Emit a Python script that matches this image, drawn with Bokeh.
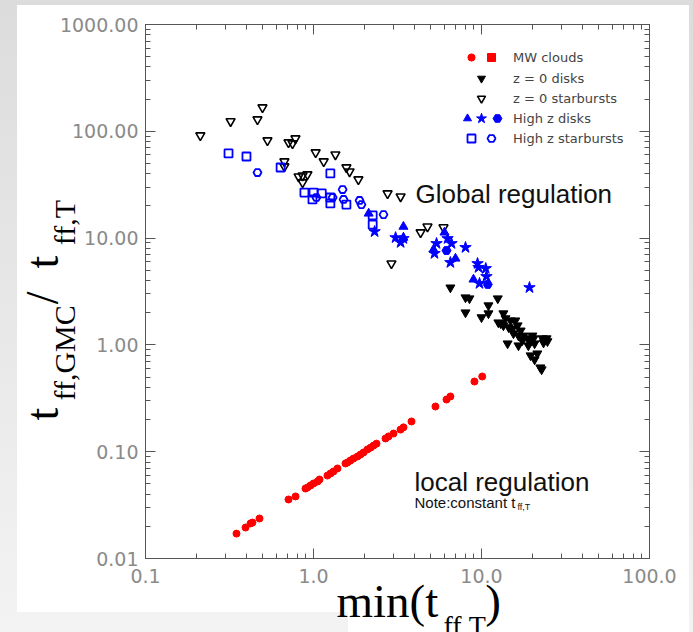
import math
from bokeh.plotting import figure
from bokeh.models import (LogAxis, LogTicker, CustomJSTickFormatter, Label,
                          Legend, LegendItem, Title)
from bokeh.embed import file_html
from bokeh.resources import INLINE

# ---------------- data ----------------
# MW clouds (red circles)
mw_x = [0.348, 0.394, 0.422, 0.433, 0.477, 0.710, 0.782, 0.896, 0.920, 0.959,
        1.00, 1.057, 1.086, 1.211, 1.262, 1.315, 1.389, 1.550, 1.593, 1.660,
        1.730, 1.828, 1.905, 1.985, 2.096, 2.184, 2.276, 2.371, 2.683, 2.796,
        2.994, 3.296, 3.434, 3.831, 5.32, 6.19, 6.53, 9.08, 10.1]
mw_y = [0.0171, 0.0195, 0.0213, 0.0217, 0.0237, 0.0357, 0.0381, 0.0452, 0.0462, 0.0483,
        0.0504, 0.0526, 0.0549, 0.0598, 0.0625, 0.0653, 0.0697, 0.0776, 0.0793, 0.0828,
        0.0863, 0.0902, 0.0942, 0.0984, 0.105, 0.109, 0.114, 0.119, 0.133, 0.139,
        0.148, 0.161, 0.169, 0.192, 0.265, 0.308, 0.329, 0.454, 0.506]

# z = 0 disks (filled black inverted triangles)
dk_x = [6.53, 8.03, 8.48, 11.0, 12.5, 8.03, 11.0, 10.0, 13.5, 13.9,
        13.0, 12.6, 14.9, 15.9, 13.5, 14.5, 15.3, 16.4, 17.1, 15.5,
        16.6, 17.8, 17.5, 18.8, 19.6, 20.4, 20.1, 14.3, 16.6, 19.0,
        20.7, 21.5, 19.6, 20.7, 23.1, 24.4, 23.4, 24.7, 22.4, 22.8]
dk_y = [3.44, 2.78, 2.72, 2.34, 2.72, 2.01, 1.97, 1.81, 1.97, 1.77,
        1.59, 1.62, 1.69, 1.69, 1.52, 1.46, 1.42, 1.52, 1.36, 1.28,
        1.22, 1.22, 1.10, 1.15, 1.08, 1.15, 1.22, 1.03, 0.987, 0.987,
        1.03, 0.830, 0.796, 0.730, 1.15, 1.15, 1.05, 1.08, 0.614, 0.589]

# z = 0 starbursts (open black inverted triangles)
sb_x = [0.212, 0.321, 0.464, 0.497, 0.532, 0.710, 0.750, 0.781, 0.671, 0.671,
        0.815, 0.861, 0.920, 0.861, 1.03, 1.15, 1.35, 1.57, 1.64, 1.85,
        2.76, 3.30, 4.34, 4.77, 5.94, 2.91]
sb_y = [91.4, 124, 129, 167, 82.0, 78.6, 76.9, 85.6, 52.2, 46.8,
        37.7, 38.5, 39.4, 33.2, 63.3, 52.2, 60.6, 45.8, 42.0, 35.4,
        26.2, 24.5, 11.3, 12.8, 12.6, 5.78]

# High z disks: triangles, stars, hexagons (blue filled)
tr_x = [2.13, 3.43, 3.43, 6.02, 5.18, 7.00, 8.96]
tr_y = [17.0, 12.8, 10.1, 11.3, 7.82, 6.44, 4.10]
st_x = [2.31, 3.08, 3.30, 3.43, 5.40, 5.25, 6.28, 6.63, 8.03, 6.53,
        9.47, 9.60, 10.6, 10.7, 9.73, 19.3]
st_y = [11.5, 10.1, 9.10, 9.91, 8.90, 7.18, 9.91, 8.90, 8.17, 5.91,
        5.78, 5.31, 5.19, 4.37, 3.76, 3.44]
hx_x = [10.9, 6.19]
hx_y = [3.68, 7.65]

# High z starbursts: open squares, open pentagons (blue)
sq_x = [0.312, 0.399, 0.637, 1.26, 0.883, 1.00, 0.986, 1.12, 1.26, 1.26, 1.57, 2.25, 2.25]
sq_y = [62.0, 58.1, 45.8, 40.3, 26.7, 26.7, 23.0, 26.2, 24.0, 21.1, 20.6, 16.3, 13.4]
pg_x = [0.464, 1.04, 1.30, 1.49, 1.51, 1.88, 1.93, 2.61]
pg_y = [41.1, 24.0, 24.0, 28.5, 23.0, 22.5, 20.6, 16.6]

legend_labels = ["MW clouds", "z = 0 disks", "z = 0 starbursts",
                 "High z disks", "High z starbursts"]

# ---------------- figure ----------------
FL, FR, FT, FB = 145, 649, 24, 558   # frame edges in canvas px
W, H = 693, 632
NB = "\u00a0"

bg_css = ("linear-gradient(#ffffff,#ffffff) 17px 5px / 672px 607px no-repeat, "
          "linear-gradient(#ffffff,#ffffff) 348px 612px / 341px 20px no-repeat, "
          "linear-gradient(to bottom, #dcdcdc, #f3f3f3)")

p = figure(width=W, height=H, x_axis_type="log", y_axis_type="log",
           x_range=(0.1, 100), y_range=(0.01, 1000),
           output_backend="svg", toolbar_location=None,
           min_border_left=FL, min_border_right=W - FR,
           min_border_top=FT, min_border_bottom=H - FB,
           background_fill_color="white", border_fill_color=None,
           styles={"background": bg_css})
p.xgrid.visible = False
p.ygrid.visible = False
p.outline_line_color = "#555555"

AX = "#555555"


def style_axis(ax, labels=True, fmt=None):
    ax.ticker = LogTicker(num_minor_ticks=10)
    ax.axis_line_color = AX
    ax.major_tick_line_color = AX
    ax.minor_tick_line_color = AX
    ax.major_tick_in = 10
    ax.major_tick_out = 0
    ax.minor_tick_in = 5
    ax.minor_tick_out = 0
    if labels:
        ax.major_label_text_font = "DejaVu Sans"
        ax.major_label_text_font_size = "19px"
        ax.major_label_text_color = "#8a8a8a"
        ax.formatter = CustomJSTickFormatter(code=fmt)
    else:
        ax.major_label_text_font_size = "1px"
        ax.major_label_text_color = None
        ax.major_label_standoff = 0


style_axis(p.xaxis[0], True, "return tick.toFixed(1)")
p.xaxis[0].major_label_standoff = 10
style_axis(p.yaxis[0], True, "return tick.toFixed(2)")
p.yaxis[0].major_label_standoff = 7

ax_r = LogAxis()
style_axis(ax_r, False)
p.add_layout(ax_r, "right")
ax_t = LogAxis()
style_axis(ax_t, False)
p.add_layout(ax_t, "above")

# ---------------- data glyphs ----------------
r_mw = p.scatter(mw_x, mw_y, marker="circle", size=7, fill_color="#ff0000", line_color="#ff0000")
r_dk = p.scatter(dk_x, dk_y, marker="inverted_triangle", size=9, fill_color="black", line_color="black")
r_sb = p.scatter(sb_x, sb_y, marker="inverted_triangle", size=9, fill_color=None,
                 line_color="black", line_width=1.6)
r_sq = p.scatter(sq_x, sq_y, marker="square", size=8, fill_color=None, line_color="#0000ff", line_width=1.8)
r_pg = p.scatter(pg_x, pg_y, marker="hex", size=8, fill_color=None, line_color="#0000ff", line_width=1.8)
r_tr = p.scatter(tr_x, tr_y, marker="triangle", size=9, fill_color="#0000ff", line_color="#0000ff")
r_st = p.scatter(st_x, st_y, marker="star", size=12, fill_color="#0000ff", line_color="#0000ff")
r_hx = p.scatter(hx_x, hx_y, marker="hex", size=9, fill_color="#0000ff", line_color="#0000ff")
# key-only red square symbol for MW clouds (zero size in the plot)
r_mwsq = p.scatter(mw_x[:1], mw_y[:1], marker="square", size=0, fill_color="#ff0000",
                   line_color="#ff0000")

# ---------------- legend (one small legend per glyph) ----------------
LEG_TEXT_X = 513
row_y = [57, 78, 98, 118, 138]
leg_rows = [
    [(r_mw, 471, 18), (r_mwsq, 491, 20)],
    [(r_dk, 481, 20)],
    [(r_sb, 481, 20)],
    [(r_tr, 467, 20), (r_st, 481, 26), (r_hx, 497, 22)],
    [(r_sq, 471, 20), (r_pg, 491, 20)],
]
for i, glyphs in enumerate(leg_rows):
    yc = row_y[i]
    for j, (r, xc, g) in enumerate(glyphs):
        last = (j == len(glyphs) - 1)
        lbl = legend_labels[i] if last else "."
        standoff = (LEG_TEXT_X - (xc + g / 2)) if last else 0
        leg = Legend(items=[LegendItem(label=lbl, renderers=[r])],
                     location=(int(xc - g / 2 - FL), int(FB - (yc + g / 2))),
                     glyph_width=g, glyph_height=g, label_height=g,
                     label_standoff=int(standoff), padding=0, margin=0, spacing=0,
                     border_line_color=None, background_fill_alpha=0,
                     label_text_font="DejaVu Sans", label_text_font_size="13px",
                     label_text_color="#444444" if last else None)
        p.add_layout(leg)

# ---------------- text ----------------
SERIF = "Liberation Serif"
SANS = "Liberation Sans"


def lab(text, px, py, size, font, color="black", angle=0.0):
    # inside the frame: screen units relative to the frame
    p.add_layout(Label(x=px - FL, y=FB - py, x_units="screen", y_units="screen",
                       text=text, text_font=font, text_font_size=f"{size}px",
                       text_color=color, angle=angle,
                       text_align="left", text_baseline="alphabetic"))


def lab_side(text, px, py, size, font, side, angle=0.0):
    # outside the frame: label in a side panel, canvas units (y from top)
    p.add_layout(Label(x=px, y=py, x_units="canvas", y_units="canvas",
                       text=text, text_font=font, text_font_size=f"{size}px",
                       text_color="black", angle=angle,
                       text_align="left", text_baseline="alphabetic"), side)


# y axis label  t_{ff,GMC} / t_{ff,T}
lab_side("t" + NB * 9 + "/" + NB * 2 + "t", 42, 420, 46, SERIF, "left", angle=math.pi / 2)
lab_side("ff,GMC" + NB * 8 + "ff,T", 64, 400, 30, SERIF, "right", angle=math.pi / 2)
# x axis label  min(t_{ff,T})
lab_side("ff,T", 443, 625, 28, SERIF, "below")
p.add_layout(Title(text="min(t" + NB * 4 + ")", text_font=SERIF, text_font_size="47px",
                   text_font_style="normal", text_color="black",
                   align="left", offset=336 - FL, vertical_align="top",
                   standoff=-84), "below")

lab("Global regulation", 415, 193, 26, SANS, color="#111111")
lab("local regulation", 414, 481, 26, SANS, color="#111111")
lab("Note:constant t", 414, 502, 15, SANS, color="#111111")
lab("ff,T", 517, 506, 9, SANS, color="#111111")

open("out.html", "w").write(file_html(p, INLINE))
